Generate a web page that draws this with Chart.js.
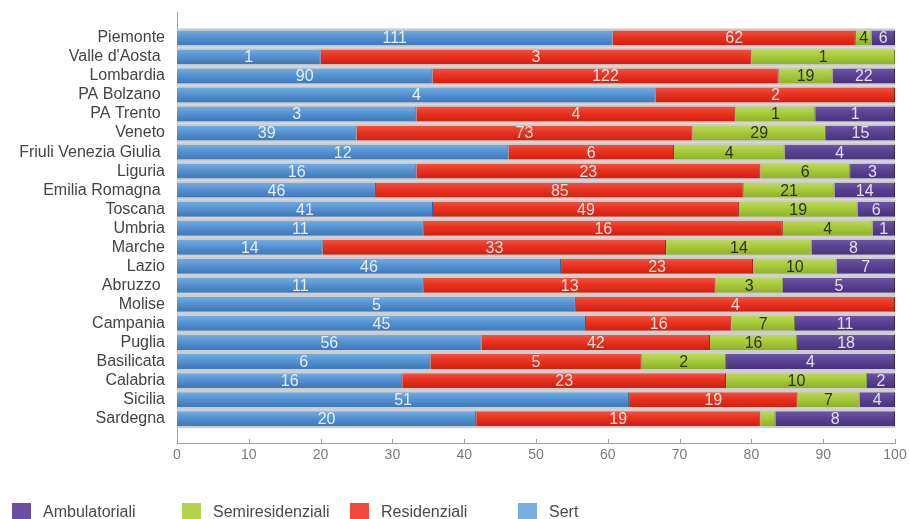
<!DOCTYPE html>
<html>
<head>
<meta charset="utf-8">
<script src="https://cdn.jsdelivr.net/npm/chart.js@4.4.1/dist/chart.umd.min.js"></script>
<style>
  html, body { margin: 0; padding: 0; background: #ffffff; }
  #wrap { width: 909px; height: 519px; position: relative; }
</style>
</head>
<body>
<div id="wrap"><canvas id="c" width="909" height="519"></canvas></div>
<script>
const regions = ['Piemonte', "Valle d'Aosta ", 'Lombardia', 'PA Bolzano ', 'PA Trento ', 'Veneto',
  'Friuli Venezia Giulia ', 'Liguria', 'Emilia Romagna ', 'Toscana', 'Umbria', 'Marche', 'Lazio',
  'Abruzzo ', 'Molise', 'Campania', 'Puglia', 'Basilicata', 'Calabria', 'Sicilia', 'Sardegna'];
const sert             = [111, 1, 90, 4, 3, 39, 12, 16, 46, 41, 11, 14, 46, 11, 5, 45, 56, 6, 16, 51, 20];
const residenziali     = [62, 3, 122, 2, 4, 73, 6, 23, 85, 49, 16, 33, 23, 13, 4, 16, 42, 5, 23, 19, 19];
const semiresidenziali = [4, 1, 19, 0, 1, 29, 4, 6, 21, 19, 4, 14, 10, 3, 0, 7, 16, 2, 10, 7, 1];
const ambulatoriali    = [6, 0, 22, 0, 1, 15, 4, 3, 14, 6, 1, 8, 7, 5, 0, 11, 18, 4, 2, 4, 8];
const xTicks = [0, 10, 20, 30, 40, 50, 60, 70, 80, 90, 100];

const Y_MIN = -1.36, Y_MAX = 21.28;

const totals = regions.map((_, i) => sert[i] + residenziali[i] + semiresidenziali[i] + ambulatoriali[i]);
const toPct = arr => arr.map((v, i) => ({ x: v / totals[i] * 100, y: i, count: v }));

function gradFill(top, mid, bottom) {
  return (ctx) => {
    const chart = ctx.chart;
    const ys = chart.scales && chart.scales.y;
    if (!ys || ctx.dataIndex === undefined || !isFinite(ys.getPixelForValue(0))) return mid;
    const c = ys.getPixelForValue(ctx.dataIndex);
    const g = chart.ctx.createLinearGradient(0, c - 7.5, 0, c + 7.5);
    g.addColorStop(0, top);
    g.addColorStop(0.45, mid);
    g.addColorStop(1, bottom);
    return g;
  };
}

const datasets = [
  { label: 'Sert', data: toPct(sert), backgroundColor: gradFill('#72ade3', '#5592d2', '#3d78b8'),
    borderColor: '#2f5f94', legendColor: '#7aaedf', textColor: '#e6eef8' },
  { label: 'Residenziali', data: toPct(residenziali), backgroundColor: gradFill('#f5503f', '#e8321f', '#d01f10'),
    borderColor: '#9c1a10', legendColor: '#f24a3c', textColor: '#fbe2de' },
  { label: 'Semiresidenziali', data: toPct(semiresidenziali), backgroundColor: gradFill('#bcd95a', '#a8ca3a', '#8fb02a'),
    borderColor: '#6f8a1e', legendColor: '#b5d44a', textColor: '#2e3320' },
  { label: 'Ambulatoriali', data: toPct(ambulatoriali), backgroundColor: gradFill('#6b55a5', '#5a4292', '#48337d'),
    borderColor: '#362660', legendColor: '#6a4fa3', textColor: '#e2def0' }
].map(d => Object.assign(d, {
  borderWidth: { left: 0, top: 0, bottom: 0, right: 1 },
  borderSkipped: false,
  barPercentage: 0.78,
  categoryPercentage: 1
}));

const bandPlugin = {
  id: 'bands',
  beforeDatasetsDraw(chart) {
    const { ctx, scales: { x, y } } = chart;
    ctx.save();
    regions.forEach((_, i) => {
      const c = y.getPixelForValue(i);
      ctx.fillStyle = '#cdcdcd';
      ctx.fillRect(x.getPixelForValue(0), c - 9.5, x.getPixelForValue(100) - x.getPixelForValue(0), 19);
    });
    ctx.restore();
  }
};

const labelPlugin = {
  id: 'segLabels',
  afterDatasetsDraw(chart) {
    const ctx = chart.ctx;
    ctx.save();
    ctx.font = '16px "Liberation Sans", Arial, sans-serif';
    ctx.textAlign = 'center';
    ctx.textBaseline = 'middle';
    chart.data.datasets.forEach((ds, di) => {
      const meta = chart.getDatasetMeta(di);
      meta.data.forEach((el, i) => {
        const w = el.x - el.base;
        const v = ds.data[i].count;
        if (!v || w <= 15.2) return;
        ctx.fillStyle = ds.textColor;
        ctx.fillText(String(v), (el.x + el.base) / 2, el.y + 1);
      });
    });
    ctx.restore();
  }
};

const legendPlugin = {
  id: 'fixedLegend',
  afterDraw(chart) {
    const ctx = chart.ctx;
    const xs = [12, 182, 350, 518];
    const items = chart.data.datasets.slice().reverse();
    ctx.save();
    ctx.font = '16px "Liberation Sans", Arial, sans-serif';
    ctx.textAlign = 'left';
    ctx.textBaseline = 'alphabetic';
    items.forEach((ds, k) => {
      ctx.fillStyle = ds.legendColor;
      ctx.fillRect(xs[k], 503, 19, 18);
      ctx.fillStyle = '#4a4a4a';
      ctx.fillText(ds.label, xs[k] + 31, 517);
    });
    ctx.restore();
  }
};

const tickMarkPlugin = {
  id: 'tickMarks',
  afterDraw(chart) {
    const { ctx, scales: { x } } = chart;
    ctx.save();
    ctx.strokeStyle = '#a0a0a0';
    ctx.lineWidth = 1;
    xTicks.forEach(t => {
      const px = Math.round(x.getPixelForValue(t)) + 0.5;
      ctx.beginPath();
      ctx.moveTo(px, x.top - 4);
      ctx.lineTo(px, x.top);
      ctx.stroke();
    });
    ctx.restore();
  }
};

new Chart(document.getElementById('c'), {
  type: 'bar',
  data: { datasets },
  options: {
    indexAxis: 'y',
    responsive: false,
    animation: false,
    layout: { padding: { top: 12, right: 14, left: 0, bottom: 0 } },
    plugins: { legend: { display: false }, tooltip: { enabled: false } },
    scales: {
      x: {
        type: 'linear', stacked: true, min: 0, max: 100,
        afterBuildTicks: (s) => { s.ticks = xTicks.map(v => ({ value: v })); },
        afterFit: (s) => { s.height = 76; s.paddingLeft = 0; s.paddingRight = 0; },
        grid: { display: false, drawTicks: false, tickLength: 0 },
        border: { display: true, color: '#a0a0a0', width: 1 },
        ticks: { color: '#7a7a7a', padding: 4, font: { family: '"Liberation Sans", Arial, sans-serif', size: 14 } }
      },
      y: {
        type: 'linear', reverse: true, stacked: true, offset: false, min: Y_MIN, max: Y_MAX,
        afterBuildTicks: (s) => {
          s.ticks = [{ value: Y_MIN }].concat(regions.map((_, i) => ({ value: i })), [{ value: Y_MAX }]);
        },
        afterFit: (s) => { s.width = 177; s.paddingTop = 0; s.paddingBottom = 0; },
        grid: { display: false, drawTicks: false, tickLength: 0 },
        border: { display: true, color: '#a0a0a0', width: 1 },
        ticks: {
          autoSkip: false, padding: 12, color: '#444444',
          font: { family: '"Liberation Sans", Arial, sans-serif', size: 16 },
          callback: (v) => (Number.isInteger(v) && regions[v] !== undefined) ? regions[v] : []
        }
      }
    }
  },
  plugins: [bandPlugin, labelPlugin, legendPlugin, tickMarkPlugin]
});
</script>
</body>
</html>
